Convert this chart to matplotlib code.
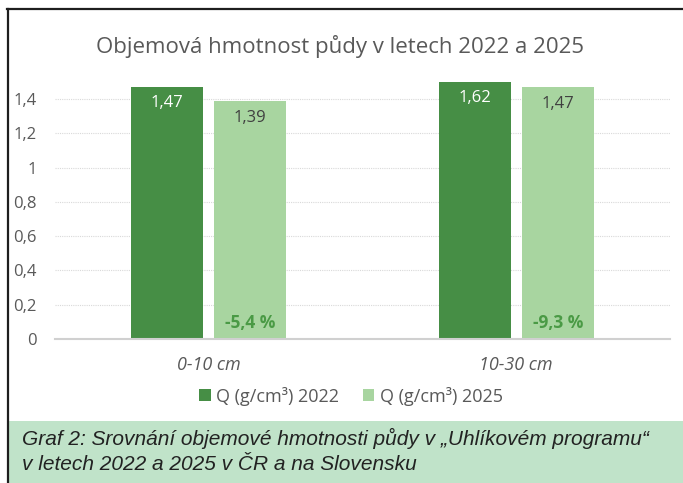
import numpy as np
import matplotlib.pyplot as plt
from matplotlib.patches import Rectangle
from matplotlib.lines import Line2D
from matplotlib.ticker import FuncFormatter

# data
categories = ['0-10 cm', '10-30 cm']
q2022 = [1.47, 1.62]
q2025 = [1.39, 1.47]
changes = ['-5,4 %', '-9,3 %']
series_names = ['Q (g/cm³) 2022', 'Q (g/cm³) 2025']

dark = '#468e45'
light = '#a8d5a0'
grey = '#595959'

plt.rcParams['font.family'] = ['Open Sans', 'DejaVu Sans']

fig = plt.figure(figsize=(6.83, 4.83), dpi=100)
W, H = 683, 483

# frame and caption box
fig.add_artist(Rectangle((8 / W, 0), 1, 62 / H, transform=fig.transFigure,
                         facecolor='#c0e3c9', edgecolor='none', zorder=0))
fig.add_artist(Line2D([7 / W, 1], [1 - 8.5 / H, 1 - 8.5 / H], transform=fig.transFigure,
                      color='#1e1e1e', lw=1.6))
fig.add_artist(Line2D([7.5 / W, 7.5 / W], [0, 1 - 8.5 / H], transform=fig.transFigure,
                      color='#1e1e1e', lw=1.6))

ax = fig.add_axes([55 / W, 1 - 339 / H, 615 / W, 257 / H])
x = np.arange(len(categories))
w = 0.235
off = 0.135
ymax = 1.5

b1 = ax.bar(x - off, q2022, w, color=dark, zorder=2)
b2 = ax.bar(x + off, q2025, w, color=light, zorder=2)

for xi, v in zip(x - off, q2022):
    ax.annotate(f'{v:.2f}'.replace('.', ','), xy=(xi, min(v, ymax)), xytext=(0, -11.5),
                textcoords='offset points', ha='center', va='center',
                color='white', fontsize=12, zorder=3)
for xi, v in zip(x + off, q2025):
    ax.annotate(f'{v:.2f}'.replace('.', ','), xy=(xi, min(v, ymax)), xytext=(0, -12),
                textcoords='offset points', ha='center', va='center',
                color='#404040', fontsize=12, zorder=3)
for xi, t in zip(x + off, changes):
    ax.annotate(t, xy=(xi, 0), xytext=(0, 11.5), textcoords='offset points',
                ha='center', va='center', color='#4a9a45', fontsize=12.5,
                fontweight='bold', zorder=3)

ax.set_xlim(-0.5, len(categories) - 0.5)
ax.set_ylim(0, ymax)
ax.set_yticks(np.arange(0, 1.41, 0.2))
ax.yaxis.set_major_formatter(FuncFormatter(lambda v, p: f'{v:.1f}'.rstrip('0').rstrip('.').replace('.', ',')))
ax.set_xticks(x)
ax.set_xticklabels(categories, fontstyle='italic', fontsize=13, color=grey)
ax.tick_params(axis='y', length=0, labelsize=12, labelcolor=grey, pad=13)
ax.tick_params(axis='x', length=0, pad=12)

ax.grid(axis='y', color='#d9d9d9', linestyle=(0, (1, 1)), lw=0.8, zorder=0)
for s in ['top', 'right', 'left']:
    ax.spines[s].set_visible(False)
ax.spines['bottom'].set_color('#d0d0d0')
ax.spines['bottom'].set_linewidth(1.5)
ax.set_facecolor('none')

fig.text(339.5 / W, 1 - 47 / H, 'Objemová hmotnost půdy v letech 2022 a 2025',
         ha='center', va='center', fontsize=16, color=grey)

fig.legend([b1, b2], series_names, loc='center', bbox_to_anchor=(351 / W, 1 - 396 / H),
           ncol=2, frameon=False, fontsize=13, labelcolor=grey, handlelength=0.65,
           handleheight=0.65, handletextpad=0.3, columnspacing=1.3)

cap_font = ['Liberation Sans', 'DejaVu Sans']
fig.text(22 / W, 1 - 438 / H, 'Graf 2: Srovnání objemové hmotnosti půdy v „Uhlíkovém programu“',
         ha='left', va='center', fontsize=15, fontstyle='italic', color='#222222', family=cap_font)
fig.text(22 / W, 1 - 464 / H, 'v letech 2022 a 2025 v ČR a na Slovensku',
         ha='left', va='center', fontsize=15, fontstyle='italic', color='#222222', family=cap_font)

fig.savefig('out.png', dpi=100)
